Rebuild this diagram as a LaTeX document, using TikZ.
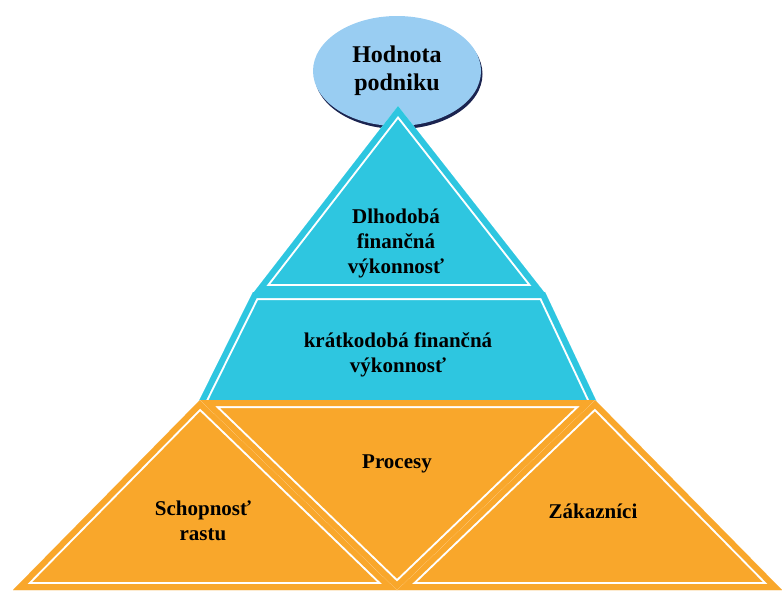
\documentclass[tikz,border=0pt]{standalone}
\usepackage{fontspec}
\setmainfont{Liberation Serif}
\usetikzlibrary{shapes.geometric,shadows}

\definecolor{pyrcyan}{HTML}{2EC6E0}
\definecolor{pyrorange}{HTML}{F9A72B}
\definecolor{capblue}{HTML}{99CDF2}
\definecolor{capnavy}{HTML}{1B2450}

% Filled polygon with a coloured rim and a thin white line set inside it
\newcommand\bandfill[2]{%
  \fill[#1] #2;
  \begin{scope}
    \clip #2;
    \draw[white, line width=16pt, line join=miter] #2;
    \draw[#1, line width=12pt, line join=miter] #2;
  \end{scope}}

\begin{document}
\begin{tikzpicture}[x=1pt,y=-1pt,
  lbl/.style={font=\bfseries\fontsize{21}{25}\selectfont, align=center, inner sep=0pt},
  topoval/.style={ellipse, fill=capblue, minimum width=168pt, minimum height=110pt, inner sep=0pt,
    general shadow={fill=capnavy, shadow xshift=1.5pt, shadow yshift=-3pt},
    font=\bfseries\fontsize{24}{28}\selectfont, align=center}]
\useasboundingbox (0,0) rectangle (782,590);

% top of the pyramid
\node[topoval] (value) at (397,71) {Hodnota\\podniku};

% corner points
\coordinate (ta) at (398,106);
\coordinate (tb) at (254,292);
\coordinate (tc) at (544,292);
\coordinate (ma) at (253,292);
\coordinate (mb) at (545,292);
\coordinate (mc) at (601,411);
\coordinate (md) at (194,411);
\coordinate (ol) at (200,400);
\coordinate (or) at (595,400);
\coordinate (bl) at (13,590);
\coordinate (bm) at (397,590);
\coordinate (br) at (782,590);

% cyan layers
\bandfill{pyrcyan}{(ta) -- (tb) -- (tc) -- cycle}
\bandfill{pyrcyan}{(ma) -- (mb) -- (mc) -- (md) -- cycle}

% orange base
\bandfill{pyrorange}{(ol) -- (bl) -- (bm) -- cycle}
\bandfill{pyrorange}{(or) -- (bm) -- (br) -- cycle}
\bandfill{pyrorange}{(ol) -- (or) -- (bm) -- cycle}

% labels
\node[lbl] (longterm) at (396,243) {Dlhodobá\\finančná\\výkonnosť};
\node[lbl] (shortterm) at (398,355) {krátkodobá finančná\\výkonnosť};
\node[lbl] (process) at (397,464) {Procesy};
\node[lbl] (growth) at (203,521) {Schopnosť\\rastu};
\node[lbl] (customer) at (593,511) {Zákazníci};
\end{tikzpicture}
\end{document}
